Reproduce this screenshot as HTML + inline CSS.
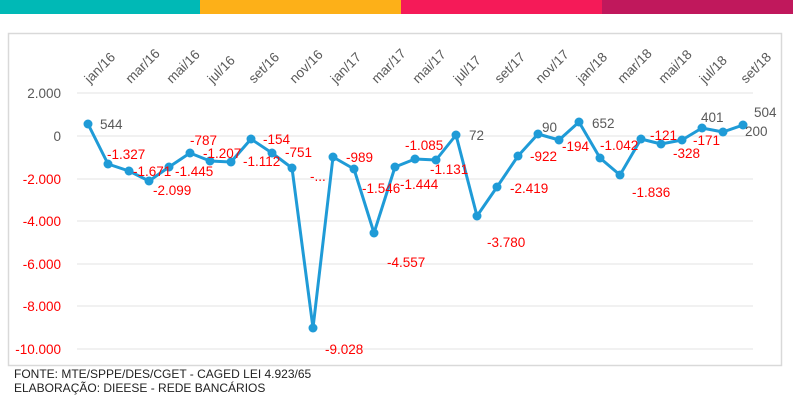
<!DOCTYPE html>
<html><head><meta charset="utf-8"><style>
body{margin:0;background:#fff;width:793px;height:420px;overflow:hidden;font-family:"Liberation Sans",sans-serif}
.bar{position:absolute;top:0;height:14px}
</style></head><body>
<div class="bar" style="left:0;width:200px;background:#00b9b6"></div>
<div class="bar" style="left:200px;width:201px;background:#fdb018"></div>
<div class="bar" style="left:401px;width:201px;background:#f51a58"></div>
<div class="bar" style="left:602px;width:191px;background:#c0185c"></div>
<svg width="793" height="420" style="position:absolute;left:0;top:0" font-family="Liberation Sans, sans-serif">
<rect x="8.5" y="33.5" width="773" height="332" fill="#fff" stroke="#d9d9d9" stroke-width="1.5"/>
<g stroke="#e3e3e3" stroke-width="1">
<line x1="77" x2="753" y1="93" y2="93"/><line x1="77" x2="753" y1="136" y2="136"/>
<line x1="77" x2="753" y1="179" y2="179"/><line x1="77" x2="753" y1="221" y2="221"/>
<line x1="77" x2="753" y1="264" y2="264"/><line x1="77" x2="753" y1="306" y2="306"/>
<line x1="77" x2="753" y1="349" y2="349"/></g>
<g font-size="13.5" text-anchor="end">
<text x="61" y="98" fill="#595959">2.000</text><text x="61" y="141" fill="#595959">0</text>
<text x="61" y="184" fill="#f00">-2.000</text><text x="61" y="226" fill="#f00">-4.000</text>
<text x="61" y="269" fill="#f00">-6.000</text><text x="61" y="311" fill="#f00">-8.000</text>
<text x="61" y="354" fill="#f00">-10.000</text></g>
<g font-size="13.5" fill="#595959">
<text transform="translate(90,84) rotate(-45)">jan/16</text>
<text transform="translate(131,84) rotate(-45)">mar/16</text>
<text transform="translate(172,84) rotate(-45)">mai/16</text>
<text transform="translate(213,84) rotate(-45)">jul/16</text>
<text transform="translate(254,84) rotate(-45)">set/16</text>
<text transform="translate(295,84) rotate(-45)">nov/16</text>
<text transform="translate(336,84) rotate(-45)">jan/17</text>
<text transform="translate(377,84) rotate(-45)">mar/17</text>
<text transform="translate(418,84) rotate(-45)">mai/17</text>
<text transform="translate(459,84) rotate(-45)">jul/17</text>
<text transform="translate(500,84) rotate(-45)">set/17</text>
<text transform="translate(541,84) rotate(-45)">nov/17</text>
<text transform="translate(582,84) rotate(-45)">jan/18</text>
<text transform="translate(623,84) rotate(-45)">mar/18</text>
<text transform="translate(664,84) rotate(-45)">mai/18</text>
<text transform="translate(705,84) rotate(-45)">jul/18</text>
<text transform="translate(746,84) rotate(-45)">set/18</text>
</g>
<polyline fill="none" stroke="#1f9bd7" stroke-width="3" stroke-linejoin="round" points="88,124 108,164 129,171 149,181 169,167 190,153 210,161 231,162 251,139 272,153 292,168 313,328 333,157 354,169 374,233 395,167 415,159 436,160 456,135 477,216 497,187 518,156 538,134 559,140 579,122 600,158 620,175 641,139 661,144 682,140 702,128 723,132 743,125"/>
<g fill="#1f9bd7">
<circle cx="88" cy="124" r="4.5"/><circle cx="108" cy="164" r="4.5"/><circle cx="129" cy="171" r="4.5"/><circle cx="149" cy="181" r="4.5"/><circle cx="169" cy="167" r="4.5"/><circle cx="190" cy="153" r="4.5"/><circle cx="210" cy="161" r="4.5"/><circle cx="231" cy="162" r="4.5"/><circle cx="251" cy="139" r="4.5"/><circle cx="272" cy="153" r="4.5"/><circle cx="292" cy="168" r="4.5"/><circle cx="313" cy="328" r="4.5"/><circle cx="333" cy="157" r="4.5"/><circle cx="354" cy="169" r="4.5"/><circle cx="374" cy="233" r="4.5"/><circle cx="395" cy="167" r="4.5"/><circle cx="415" cy="159" r="4.5"/><circle cx="436" cy="160" r="4.5"/><circle cx="456" cy="135" r="4.5"/><circle cx="477" cy="216" r="4.5"/><circle cx="497" cy="187" r="4.5"/><circle cx="518" cy="156" r="4.5"/><circle cx="538" cy="134" r="4.5"/><circle cx="559" cy="140" r="4.5"/><circle cx="579" cy="122" r="4.5"/><circle cx="600" cy="158" r="4.5"/><circle cx="620" cy="175" r="4.5"/><circle cx="641" cy="139" r="4.5"/><circle cx="661" cy="144" r="4.5"/><circle cx="682" cy="140" r="4.5"/><circle cx="702" cy="128" r="4.5"/><circle cx="723" cy="132" r="4.5"/><circle cx="743" cy="125" r="4.5"/></g>
<g font-size="13.5" fill="#f00">
<text x="107" y="159">-1.327</text><text x="133" y="176">-1.671</text><text x="153" y="195">-2.099</text>
<text x="175" y="176">-1.445</text><text x="190" y="145">-787</text><text x="203" y="158">-1.207</text>
<text x="243" y="166">-1.112</text><text x="263" y="144">-154</text><text x="285" y="157">-751</text>
<text x="310" y="181">-...</text><text x="325" y="354">-9.028</text><text x="346" y="162">-989</text>
<text x="362" y="193">-1.546</text><text x="387" y="267">-4.557</text><text x="400" y="189">-1.444</text>
<text x="405" y="150">-1.085</text><text x="430" y="174">-1.131</text><text x="487" y="247">-3.780</text>
<text x="510" y="193">-2.419</text><text x="530" y="161">-922</text><text x="562" y="151">-194</text>
<text x="600" y="150">-1.042</text><text x="632" y="197">-1.836</text><text x="650" y="140">-121</text>
<text x="673" y="158">-328</text><text x="693" y="145">-171</text></g>
<g font-size="13.5" fill="#595959">
<text x="100" y="129">544</text><text x="469" y="140">72</text><text x="542" y="132">90</text>
<text x="592" y="128">652</text><text x="701" y="122">401</text><text x="745" y="136">200</text><text x="754" y="117">504</text></g>
<g font-size="12" fill="#222">
<text x="14" y="378">FONTE: MTE/SPPE/DES/CGET - CAGED LEI 4.923/65</text>
<text x="14" y="392">ELABORAÇÃO: DIEESE - REDE BANCÁRIOS</text></g>
</svg>
</body></html>
